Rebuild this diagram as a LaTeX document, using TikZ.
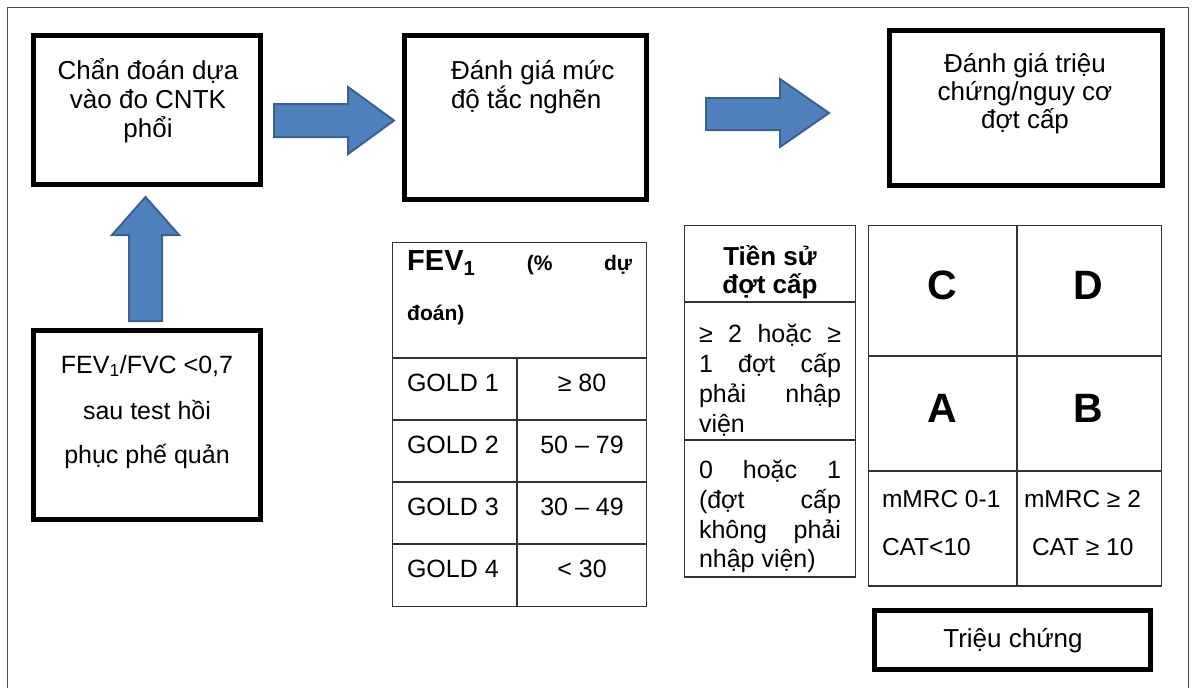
\documentclass[tikz,border=0pt]{standalone}
\usepackage{fontspec}
\setmainfont{Liberation Sans}
\newcommand\fsz[2]{\fontsize{#1}{#2}\selectfont}
\definecolor{arrowfill}{HTML}{4F81BD}
\definecolor{arrowline}{HTML}{3A6190}
\begin{document}
\begin{tikzpicture}[x=1pt,y=-1pt,
  frame/.style={draw=black!70, line width=1pt},
  box/.style={draw=black, line width=4.5pt, inner sep=0pt, outer sep=0pt},
  tbl/.style={draw=black!80, line width=1.3pt},
  blockarrow/.style={fill=arrowfill, draw=arrowline, line width=2pt, line join=miter},
  t/.style={inner sep=0pt, outer sep=0pt, font=\fsz{25}{28}},
  tl/.style={inner sep=0pt, outer sep=0pt, font=\fsz{26}{29}},
  tb/.style={inner sep=0pt, outer sep=0pt, font=\bfseries\fsz{26}{28}},
  big/.style={inner sep=0pt, outer sep=0pt, font=\bfseries\fsz{41}{44}}]
\useasboundingbox (0,0) rectangle (1192,688);
\fill[white] (0,0) rectangle (1192,688);

% page frame
\draw[frame] (7,688) -- (7,7) -- (1188,7) -- (1188,688);

% main boxes
\node[box, minimum width=227pt, minimum height=149pt] (diag) at (147,110) {};
\node[box, minimum width=227pt, minimum height=189pt] (ratio) at (147,425) {};
\node[box, minimum width=242pt, minimum height=164pt] (sever) at (525.5,117.5) {};
\node[box, minimum width=273pt, minimum height=155pt] (risk) at (1026,108) {};
\node[box, minimum width=276pt, minimum height=59pt] (sympt) at (1012.5,640) {};

% block arrows
\draw[blockarrow] (274,104) -- (348,104) -- (348,87) -- (394,120.5) -- (348,154) -- (348,137) -- (274,137) -- cycle;
\draw[blockarrow] (706,98) -- (780,98) -- (780,79) -- (829,113) -- (780,147) -- (780,130) -- (706,130) -- cycle;
\draw[blockarrow] (129,321) -- (129,235) -- (112,235) -- (145.5,197) -- (179,235) -- (162,235) -- (162,321) -- cycle;

% box texts
\foreach \s [count=\i from 0] in {Chẩn đoán dựa, vào đo CNTK, phổi}
  \node[tl, anchor=base] (diag-\i) at (148,{79+29*\i}) {\s};
\foreach \s [count=\i from 0] in {Đánh giá mức, độ tắc nghẽn}
  \node[tl, anchor=base west] (sever-\i) at (451,{79+29*\i}) {\s};
\foreach \s [count=\i from 0] in {Đánh giá triệu, chứng/nguy cơ, đợt cấp}
  \node[tl, anchor=base] (risk-\i) at (1025,{72+28*\i}) {\s};
\node[t, anchor=base] (ratio-0) at (147,373) {FEV\textsubscript{1}/FVC <0,7};
\node[t, anchor=base] (ratio-1) at (147,419) {sau test hồi};
\node[t, anchor=base] (ratio-2) at (147,463) {phục phế quản};
\node[t, anchor=base, font=\fsz{26}{28}] (sympt-t) at (1013,647) {Triệu chứng};

% GOLD table
\draw[tbl] (392.5,242.5) rectangle (646.5,606.5);
\foreach \y in {358,420,482,544} \draw[tbl] (392.5,\y) -- (646.5,\y);
\draw[tbl] (517,358) -- (517,606.5);
\node[inner sep=0pt, anchor=base west, font=\bfseries\fsz{21}{24}] (gold-h0) at (407,270)
  {\makebox[225pt][s]{{\fsz{29}{30}FEV\textsubscript{1}} (\% dự}};
\node[inner sep=0pt, anchor=base west, font=\bfseries\fsz{21}{24}] (gold-h1) at (407,320) {đoán)};
\foreach \g/\v [count=\i from 0] in {1/≥ 80, 2/50 – 79, 3/30 – 49, 4/< 30} {
  \node[t, anchor=base west] (gold-\g) at (407,{391+62*\i}) {GOLD \g};
  \node[t, anchor=base] (gold-v\g) at (582,{391+62*\i}) {\v};
}

% exacerbation history table
\draw[tbl] (684.5,225.5) rectangle (855.5,577);
\draw[tbl] (684.5,302) -- (855.5,302);
\draw[tbl] (684.5,440) -- (855.5,440);
\node[tb, anchor=base] (hist-0) at (770,265) {Tiền sử};
\node[tb, anchor=base] (hist-1) at (770,293) {đợt cấp};
\node[t, anchor=base west] (hi-0) at (699,342) {\makebox[142pt][s]{≥ 2 hoặc ≥}};
\node[t, anchor=base west] (hi-1) at (699,372) {\makebox[142pt][s]{1 đợt cấp}};
\node[t, anchor=base west] (hi-2) at (699,402) {\makebox[142pt][s]{phải nhập}};
\node[t, anchor=base west] (hi-3) at (699,432) {viện};
\node[t, anchor=base west] (lo-0) at (699,478) {\makebox[142pt][s]{0 hoặc 1}};
\node[t, anchor=base west] (lo-1) at (699,508) {\makebox[142pt][s]{(đợt cấp}};
\node[t, anchor=base west] (lo-2) at (699,538) {\makebox[142pt][s]{không phải}};
\node[t, anchor=base west] (lo-3) at (699,567) {nhập viện)};

% ABCD grid
\draw[tbl] (868.5,225.5) rectangle (1161.5,586);
\draw[tbl] (1017,225.5) -- (1017,586);
\draw[tbl] (868.5,356) -- (1161.5,356);
\draw[tbl] (868.5,471) -- (1161.5,471);
\node[big, anchor=base] (gC) at (942,299) {C};
\node[big, anchor=base] (gD) at (1088,299) {D};
\node[big, anchor=base] (gA) at (942,422) {A};
\node[big, anchor=base] (gB) at (1088,422) {B};
\node[t, anchor=base west, font=\fsz{24.5}{28}] (m-lo) at (882,507) {mMRC 0-1};
\node[t, anchor=base west, font=\fsz{24.5}{28}] (c-lo) at (882,555) {CAT<10};
\node[t, anchor=base west, font=\fsz{24.5}{28}] (m-hi) at (1024,507) {mMRC ≥ 2};
\node[t, anchor=base west, font=\fsz{24.5}{28}] (c-hi) at (1032,555) {CAT ≥ 10};
\end{tikzpicture}
\end{document}
